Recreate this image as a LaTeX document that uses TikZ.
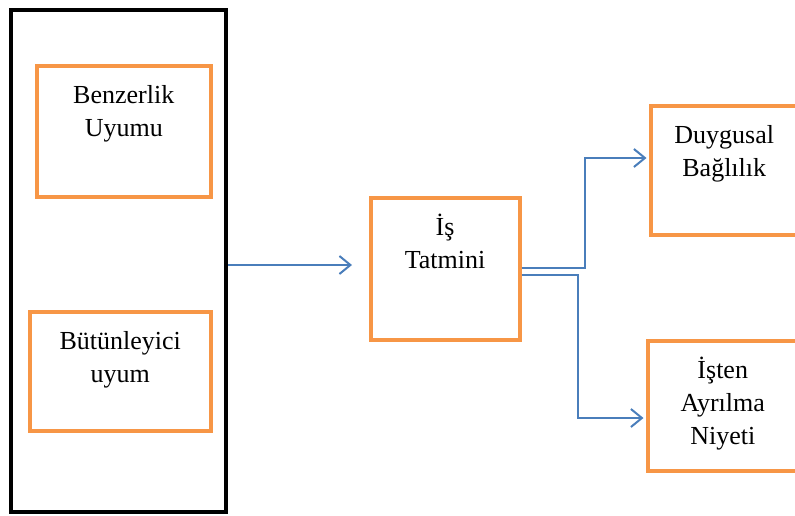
\documentclass[tikz,border=0pt]{standalone}
\usepackage{fontspec}
\setmainfont{Liberation Serif}
\usetikzlibrary{arrows.meta,calc}
\usetikzlibrary{positioning}
\definecolor{kututuruncu}{HTML}{F79646}
\definecolor{okmavi}{HTML}{4A7EBB}
\tikzset{
  grup/.style={draw=black, line width=4pt},
  kutu/.style={draw=kututuruncu, line width=4pt},
  yazi/.style={font=\fontsize{26}{33}\selectfont, align=center, inner sep=0pt},
  ok/.style={draw=okmavi, line width=2pt, -{Straight Barb[length=11pt,width=18pt]}}
}

\begin{document}
\begin{tikzpicture}[x=1pt,y=-1pt]
  \clip (0,0) rectangle (795,515);

  \node[grup, minimum width=215.5pt, minimum height=502.5pt] (grp) at (118.25,260.75) {};
  \node[kutu, minimum width=174.5pt, minimum height=131pt] (benz) at (123.75,131) {};
  \node[kutu, minimum width=181.5pt, minimum height=119pt] (butun) at (120.25,371) {};
  \node[kutu, minimum width=149pt, minimum height=142pt] (tatmin) at (445,268.5) {};
  \node[kutu, minimum width=147.5pt, minimum height=129pt] (bagli) at (724.25,170) {};
  \node[kutu, minimum width=150.5pt, minimum height=130pt] (ayril) at (722.75,405.5) {};

  \node[yazi, below=17pt of benz.north] (benzt) {\rule{0pt}{23pt}Benzerlik\\Uyumu};
  \node[yazi, below=17pt of butun.north] (butunt) {\rule{0pt}{23pt}Bütünleyici\\uyum};
  \node[yazi, below=17pt of tatmin.north] (tatmint) {\rule{0pt}{23pt}İş\\Tatmini};
  \node[yazi, below=17pt of bagli.north] (baglit) {\rule{0pt}{23pt}Duygusal\\Bağlılık};
  \node[yazi, below=17pt of ayril.north] (ayrilt) {\rule{0pt}{23pt}İşten\\Ayrılma\\Niyeti};

  \coordinate (uc1) at (352,265);
  \coordinate (kir1) at (585,158);
  \coordinate (kir2) at (578,418);

\draw[ok] (grp.east |- uc1) -- (uc1);
\draw[ok, shorten >=2pt] ([yshift=0.5pt]tatmin.east) -| (kir1) -- (bagli.west |- kir1);
\draw[ok, shorten >=2pt] ([yshift=-6.5pt]tatmin.east) -| (kir2) -- (ayril.west |- kir2);
\end{tikzpicture}
\end{document}
